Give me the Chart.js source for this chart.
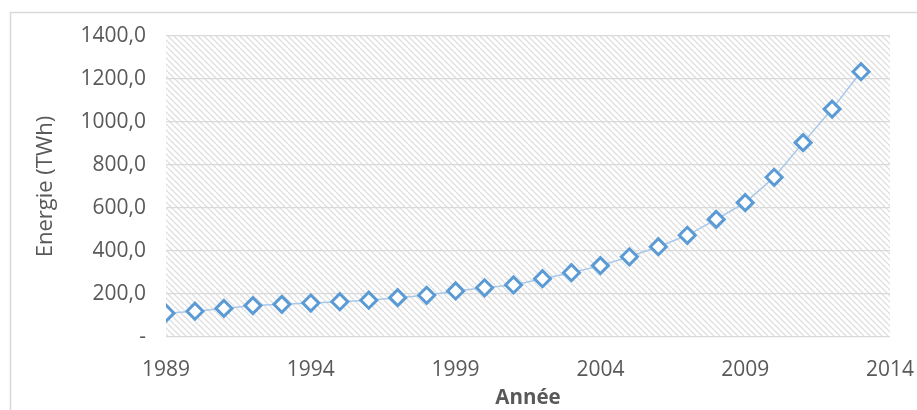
<!DOCTYPE html>
<html>
<head>
<meta charset="utf-8">
<script src="https://cdn.jsdelivr.net/npm/chart.js@4"></script>
<style>
  html, body { margin: 0; padding: 0; background: #fff; }
  #wrap { width: 917px; height: 410px; position: relative; }
</style>
</head>
<body>
<div id="wrap"><canvas id="myChart"></canvas></div>
<script>
// production per year, TWh
var years = [1989, 1990, 1991, 1992, 1993, 1994, 1995, 1996, 1997, 1998, 1999, 2000,
  2001, 2002, 2003, 2004, 2005, 2006, 2007, 2008, 2009, 2010, 2011, 2012, 2013]
var energie = [111, 120, 133, 146, 152, 158, 164, 171, 183, 194, 214, 229,
  242, 271, 299, 332, 373, 420, 473, 547, 625, 743, 904, 1060, 1234]

var xTicks = [1989, 1994, 1999, 2004, 2009, 2014]
var yTicks = [0, 200, 400, 600, 800, 1000, 1200, 1400]

var points = years.map(function (y, i) { return { x: y, y: energie[i] } })

var grey = '#595959'
var fontName = "'Open Sans', sans-serif"

// diagonal hatch for the plot area
function makeHatch() {
  var c = document.createElement('canvas')
  c.width = 6
  c.height = 6
  var g = c.getContext('2d')
  g.fillStyle = '#ffffff'
  g.fillRect(0, 0, 6, 6)
  g.strokeStyle = '#dedede'
  g.lineWidth = 1.3
  for (var k = -1; k <= 1; k++) {
    g.beginPath()
    g.moveTo(k * 6, 0)
    g.lineTo(k * 6 + 6, 6)
    g.stroke()
  }
  return g.createPattern(c, 'repeat')
}

var background = {
  id: 'background',
  beforeDraw: function (chart) {
    var ctx = chart.ctx
    var a = chart.chartArea
    ctx.save()
    ctx.fillStyle = '#ffffff'
    ctx.fillRect(0, 0, chart.width, chart.height)
    // outer frame
    ctx.strokeStyle = '#d9d9d9'
    ctx.lineWidth = 1.5
    ctx.strokeRect(10.5, 12.5, 940, 420)
    ctx.fillStyle = makeHatch()
    ctx.fillRect(a.left, a.top, a.right - a.left, a.bottom - a.top)
    ctx.restore()
  }
}

var ctx = document.getElementById('myChart').getContext('2d')
var chart = new Chart(ctx, {
  type: 'scatter',
  data: {
    datasets: [{
      label: 'Energie',
      data: points,
      showLine: true,
      borderColor: '#a8c8ea',
      borderWidth: 1.5,
      pointStyle: 'rectRot',
      pointRadius: 8,
      pointHoverRadius: 8,
      pointBorderWidth: 3,
      pointBorderColor: '#5b9bd5',
      pointBackgroundColor: '#ffffff'
    }]
  },
  options: {
    responsive: true,
    maintainAspectRatio: false,
    animation: false,
    layout: { padding: { left: 10, right: 27, top: 36, bottom: 0 } },
    plugins: {
      legend: { display: false },
      tooltip: { enabled: false }
    },
    scales: {
      x: {
        type: 'linear',
        min: xTicks[0],
        max: xTicks[xTicks.length - 1],
        afterBuildTicks: function (axis) {
          axis.ticks = xTicks.map(function (v) { return { value: v } })
        },
        afterFit: function (axis) {
          axis.height = 73
          axis.paddingLeft = 0
          axis.paddingRight = 0
        },
        grid: { display: false, drawTicks: false },
        border: { display: false },
        ticks: {
          padding: 20,
          color: grey,
          font: { family: fontName, size: 21 },
          maxRotation: 0,
          callback: function (v) { return String(v) }
        },
        title: {
          display: true,
          text: 'Année',
          color: grey,
          font: { family: fontName, size: 20.5, weight: 'bold' },
          padding: { top: 0, bottom: 0 }
        }
      },
      y: {
        min: yTicks[0],
        max: yTicks[yTicks.length - 1],
        afterBuildTicks: function (axis) {
          axis.ticks = yTicks.map(function (v) { return { value: v } })
        },
        afterFit: function (axis) { axis.width = 156 },
        grid: { color: '#d9d9d9', lineWidth: 1.2, drawTicks: false },
        border: { display: false },
        ticks: {
          padding: 20,
          color: grey,
          font: { family: fontName, size: 21 },
          callback: function (v) {
            return v === 0 ? '-' : v.toFixed(1).replace('.', ',')
          }
        },
        title: {
          display: true,
          text: 'Energie (TWh)',
          color: grey,
          font: { family: fontName, size: 22 },
          padding: { top: 23, bottom: 0 }
        }
      }
    }
  },
  plugins: [background]
})
</script>
</body>
</html>
